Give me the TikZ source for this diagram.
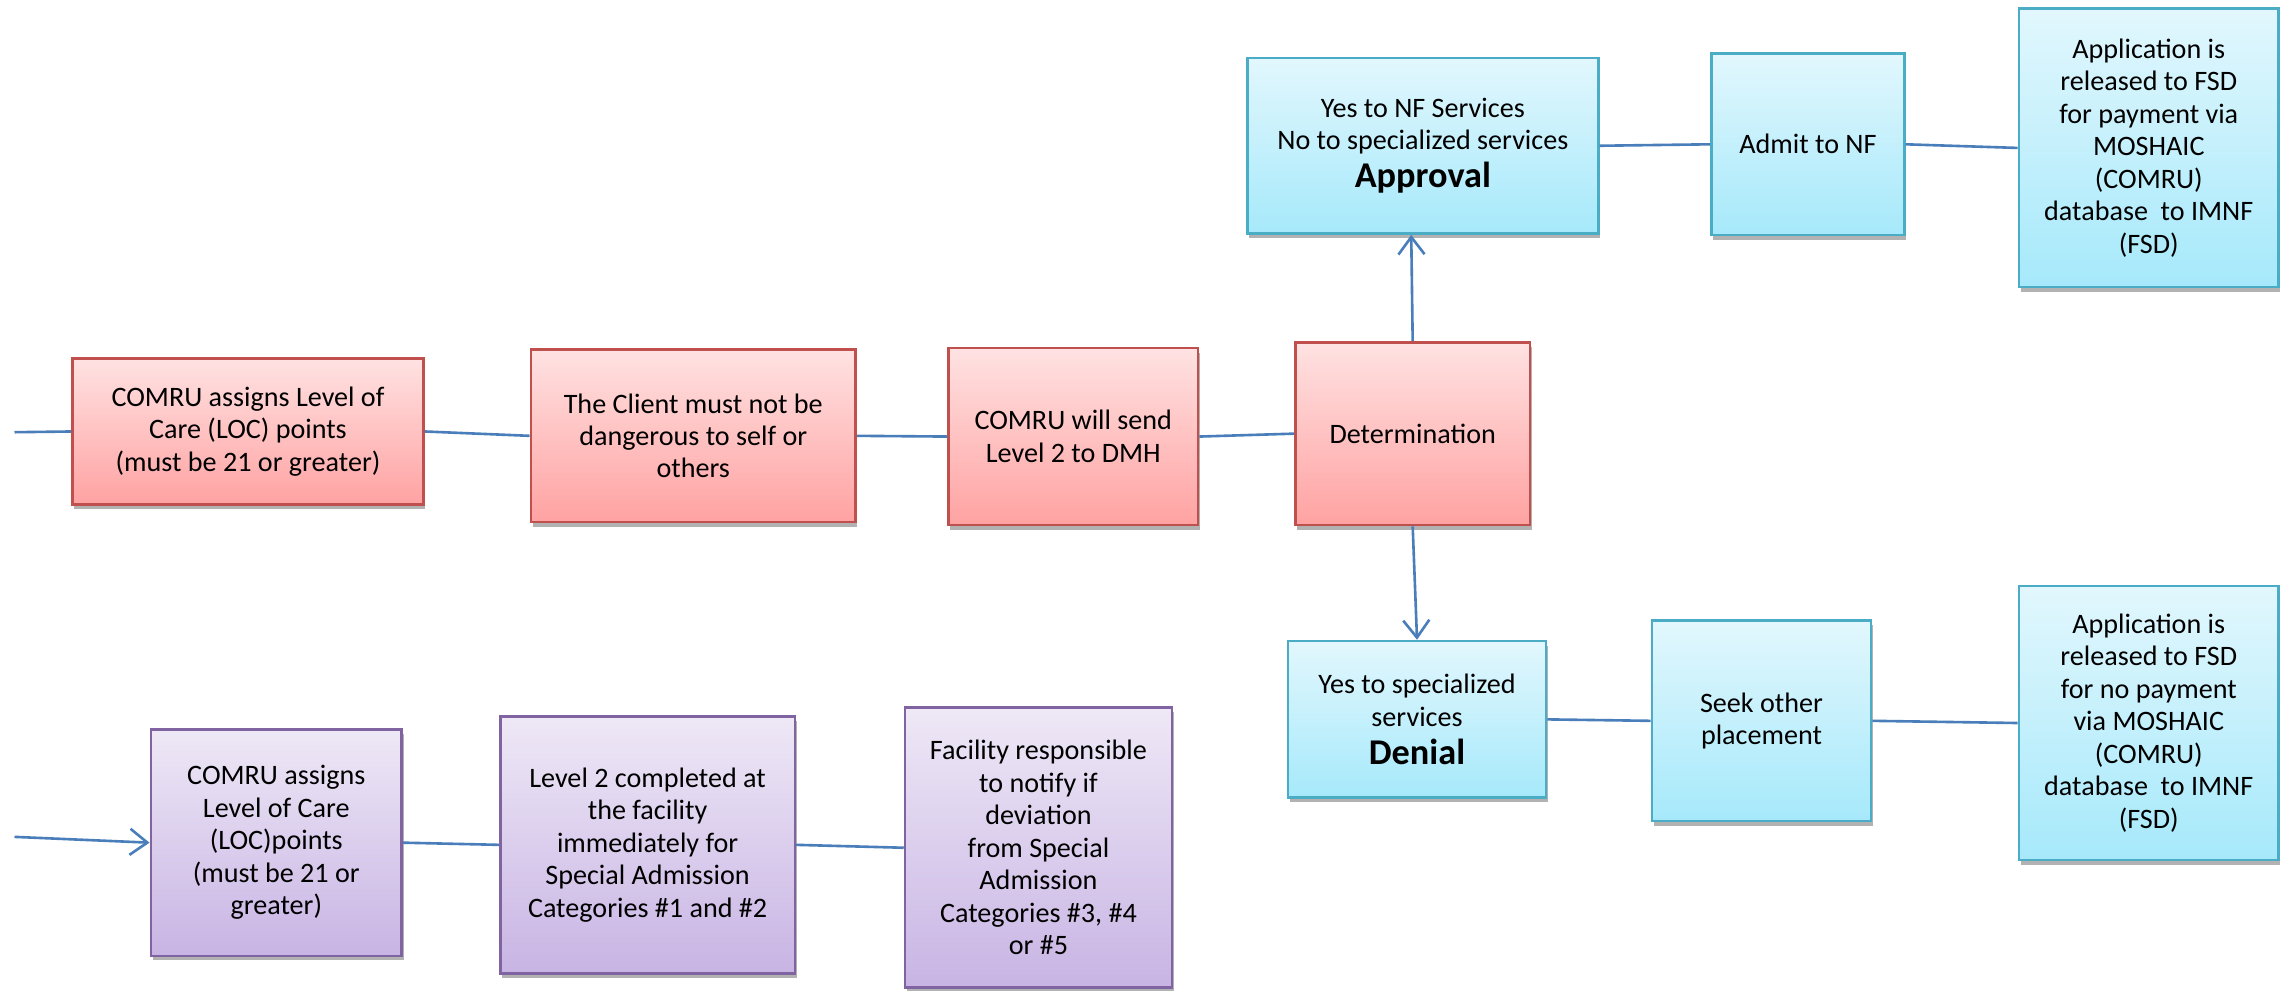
\documentclass[tikz,border=0pt]{standalone}
\usepackage{fontspec}
\setmainfont{Carlito}
\usetikzlibrary{arrows.meta,shadows}
\definecolor{redline}{HTML}{C0504D}
\definecolor{redtop}{HTML}{FFE2E2}
\definecolor{redbot}{HTML}{FFA2A2}
\definecolor{blueline}{HTML}{4BACC6}
\definecolor{bluetop}{HTML}{E2F7FD}
\definecolor{bluebot}{HTML}{A6E9FB}
\definecolor{purpline}{HTML}{8064A2}
\definecolor{purptop}{HTML}{EEE8F6}
\definecolor{purpbot}{HTML}{C8B4E4}
\definecolor{conn}{HTML}{4A7EBB}
\tikzset{
  box/.style={rectangle, line width=0.9pt, align=center, inner sep=0pt,
    font=\fontsize{9.7}{11.2}\selectfont,
    drop shadow={shadow xshift=0.6pt, shadow yshift=-1.6pt, opacity=0.3, fill=black}},
  redbox/.style={box, draw=redline, top color=redtop, bottom color=redbot},
  bluebox/.style={box, draw=blueline, top color=bluetop, bottom color=bluebot},
  purpbox/.style={box, draw=purpline, top color=purptop, bottom color=purpbot},
  link/.style={draw=conn, line width=0.9pt},
  arr/.style={link, -{Straight Barb[length=6pt,width=9pt,line width=0.9pt]}}
}
\newcommand\bigword[1]{{\fontsize{12.5}{14}\selectfont\bfseries #1}}
\begin{document}
\begin{tikzpicture}[x=0.5pt,y=-0.5pt]
\useasboundingbox (0,0) rectangle (1572,683);
\fill[white] (0,0) rectangle (1572,683);

% red row
\node[redbox, minimum width=121pt, minimum height=50.5pt] (R1) at (171,297.5)
  {COMRU assigns Level of\\Care (LOC) points\\(must be 21 or greater)};
\node[redbox, minimum width=112pt, minimum height=59.5pt] (R2) at (478,300.5)
  {The Client must not be\\dangerous to self or\\others};
\node[redbox, minimum width=86pt, minimum height=61pt] (R3) at (740,301)
  {COMRU will send\\Level 2 to DMH};
\node[redbox, minimum width=81pt, minimum height=63pt] (R4) at (974,299)
  {Determination};

% blue top
\node[bluebox, minimum width=121pt, minimum height=60.5pt] (B1) at (981,100.5)
  {Yes to NF Services\\No to specialized services\\[2pt]\bigword{Approval}};
\node[bluebox, minimum width=66.5pt, minimum height=62.5pt] (B2) at (1246.5,99.5)
  {Admit to NF};
\node[bluebox, minimum width=89.5pt, minimum height=96pt] (B3) at (1481.5,102)
  {Application is\\released to FSD\\for payment via\\MOSHAIC\\(COMRU)\\database\ \ to IMNF\\(FSD)};

% blue bottom
\node[bluebox, minimum width=89pt, minimum height=54pt] (B4) at (977,496)
  {Yes to specialized\\services\\[2pt]\bigword{Denial}};
\node[bluebox, minimum width=75.5pt, minimum height=69pt] (B5) at (1214.5,497)
  {Seek other\\placement};
\node[bluebox, minimum width=89.5pt, minimum height=94.5pt] (B6) at (1481.5,498.5)
  {Application is\\released to FSD\\for no payment\\via MOSHAIC\\(COMRU)\\database\ \ to IMNF\\(FSD)};

% purple row
\node[purpbox, minimum width=86.5pt, minimum height=78pt] (P1) at (190.5,581)
  {COMRU assigns\\Level of Care\\(LOC)points\\(must be 21 or\\greater)};
\node[purpbox, minimum width=101.5pt, minimum height=88.5pt] (P2) at (446.5,582.5)
  {Level 2 completed at\\the facility\\immediately for\\Special Admission\\Categories \#1 and \#2};
\node[purpbox, minimum width=92pt, minimum height=96.5pt] (P3) at (716,584.5)
  {Facility responsible\\to notify if\\deviation\\ from Special\\Admission\\Categories \#3, \#4\\or \#5};

% free ends
\coordinate (inTop) at (10,298);
\coordinate (inBot) at (10,577);

% connectors
\draw[link] (inTop) -- (R1.west);
\draw[link] (R1.east) -- (R2.west);
\draw[link] (R2.east) -- (R3.west);
\draw[link] (R3.east) -- (R4.west);
\draw[arr] (R4.north) -- ([xshift=-4pt]B1.south);
\draw[arr] (R4.south) -- (B4.north);
\draw[link] (B1.east) -- (B2.west);
\draw[link] (B2.east) -- (B3.west);
\draw[link] (B4.east) -- (B5.west);
\draw[link] (B5.east) -- (B6.west);
\draw[arr] (inBot) -- (P1.west);
\draw[link] (P1.east) -- (P2.west);
\draw[link] (P2.east) -- (P3.west);
\end{tikzpicture}
\end{document}
